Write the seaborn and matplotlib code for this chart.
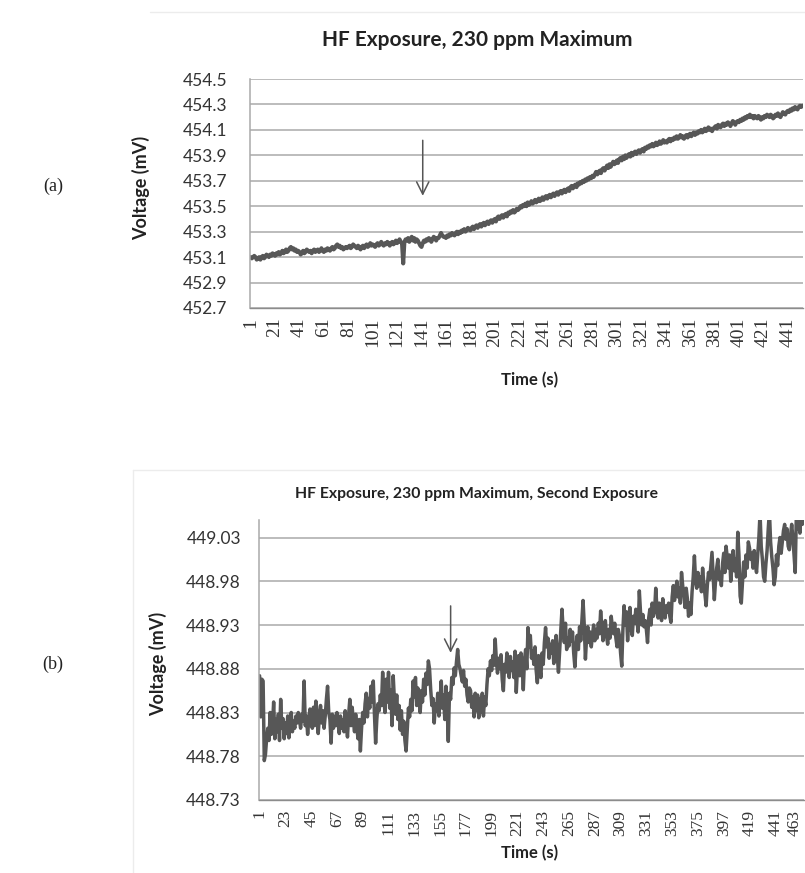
import matplotlib
matplotlib.use("Agg")
import matplotlib.pyplot as plt
import matplotlib.transforms as mtransforms
from matplotlib.lines import Line2D
import seaborn as sns
import pandas as pd

# (a) first exposure, voltage in mV, one reading per second (rows of 20 s)
volt_a = [
    453.10, 453.09, 453.10, 453.11, 453.10, 453.08, 453.09, 453.10, 453.08, 453.10, 453.11, 453.09, 453.10, 453.12, 453.11, 453.10, 453.12, 453.11, 453.13, 453.12,
    453.11, 453.13, 453.12, 453.14, 453.12, 453.13, 453.15, 453.13, 453.14, 453.16, 453.14, 453.15, 453.17, 453.18, 453.16, 453.17, 453.15, 453.16, 453.14, 453.15,
    453.14, 453.12, 453.13, 453.15, 453.13, 453.14, 453.16, 453.15, 453.14, 453.15, 453.13, 453.15, 453.16, 453.14, 453.15, 453.16, 453.14, 453.15, 453.17, 453.15,
    453.14, 453.16, 453.15, 453.17, 453.16, 453.15, 453.17, 453.18, 453.16, 453.17, 453.19, 453.20, 453.18, 453.19, 453.17, 453.18, 453.16, 453.17, 453.18, 453.17,
    453.18, 453.19, 453.17, 453.18, 453.20, 453.19, 453.18, 453.17, 453.19, 453.18, 453.16, 453.18, 453.19, 453.17, 453.19, 453.20, 453.18, 453.19, 453.21, 453.19,
    453.20, 453.19, 453.18, 453.20, 453.21, 453.19, 453.20, 453.22, 453.20, 453.19, 453.21, 453.20, 453.22, 453.21, 453.19, 453.21, 453.22, 453.20, 453.21, 453.23,
    453.21, 453.22, 453.24, 453.22, 453.21, 453.05, 453.22, 453.24, 453.23, 453.25, 453.22, 453.24, 453.26, 453.23, 453.25, 453.22, 453.24, 453.23, 453.21, 453.19,
    453.18, 453.21, 453.23, 453.22, 453.24, 453.23, 453.25, 453.24, 453.22, 453.24, 453.26, 453.25, 453.23, 453.25, 453.25, 453.27, 453.29, 453.27, 453.26, 453.26,
    453.25, 453.27, 453.26, 453.28, 453.27, 453.29, 453.28, 453.27, 453.29, 453.30, 453.28, 453.30, 453.29, 453.31, 453.30, 453.32, 453.30, 453.31, 453.33, 453.32,
    453.31, 453.33, 453.34, 453.32, 453.34, 453.35, 453.33, 453.35, 453.36, 453.34, 453.36, 453.37, 453.35, 453.37, 453.38, 453.36, 453.38, 453.39, 453.37, 453.39,
    453.40, 453.38, 453.41, 453.42, 453.40, 453.42, 453.43, 453.41, 453.43, 453.44, 453.42, 453.45, 453.44, 453.46, 453.45, 453.47, 453.45, 453.46, 453.48, 453.47,
    453.48, 453.50, 453.49, 453.51, 453.50, 453.52, 453.50, 453.53, 453.51, 453.52, 453.54, 453.52, 453.53, 453.55, 453.53, 453.54, 453.56, 453.54, 453.55, 453.57,
    453.55, 453.57, 453.58, 453.56, 453.58, 453.59, 453.57, 453.59, 453.60, 453.58, 453.60, 453.61, 453.59, 453.61, 453.62, 453.60, 453.62, 453.63, 453.61, 453.63,
    453.64, 453.62, 453.65, 453.66, 453.64, 453.66, 453.67, 453.65, 453.68, 453.67, 453.69, 453.68, 453.70, 453.69, 453.71, 453.70, 453.72, 453.71, 453.73, 453.72,
    453.74, 453.73, 453.75, 453.77, 453.75, 453.77, 453.78, 453.76, 453.79, 453.80, 453.78, 453.80, 453.82, 453.80, 453.83, 453.81, 453.83, 453.85, 453.83, 453.84,
    453.86, 453.84, 453.87, 453.88, 453.86, 453.89, 453.87, 453.90, 453.88, 453.90, 453.91, 453.89, 453.92, 453.90, 453.92, 453.93, 453.91, 453.93, 453.94, 453.92,
    453.94, 453.95, 453.93, 453.96, 453.95, 453.97, 453.96, 453.98, 453.97, 453.99, 453.97, 453.98, 454.00, 453.98, 453.99, 454.01, 453.99, 454.00, 454.02, 454.00,
    454.01, 454.00, 454.02, 454.03, 454.01, 454.03, 454.02, 454.04, 454.03, 454.05, 454.03, 454.04, 454.06, 454.04, 454.05, 454.03, 454.05, 454.06, 454.04, 454.06,
    454.07, 454.05, 454.07, 454.08, 454.06, 454.08, 454.07, 454.09, 454.08, 454.10, 454.08, 454.09, 454.11, 454.09, 454.10, 454.12, 454.10, 454.11, 454.09, 454.11,
    454.12, 454.13, 454.11, 454.14, 454.13, 454.12, 454.14, 454.15, 454.13, 454.15, 454.14, 454.16, 454.15, 454.13, 454.15, 454.17, 454.16, 454.14, 454.16, 454.17,
    454.16, 454.18, 454.17, 454.19, 454.18, 454.20, 454.19, 454.21, 454.20, 454.22, 454.20, 454.21, 454.19, 454.21, 454.20, 454.19, 454.21, 454.20, 454.18, 454.20,
    454.19, 454.21, 454.20, 454.22, 454.21, 454.20, 454.22, 454.21, 454.19, 454.20, 454.22, 454.21, 454.23, 454.21, 454.20, 454.22, 454.24, 454.23, 454.22, 454.24,
    454.25, 454.24, 454.26, 454.25, 454.27, 454.26, 454.28, 454.27, 454.26, 454.28, 454.29, 454.28, 454.29,
]

# (b) second exposure, voltage in mV (rows of 22 s)
volt_b = [
    448.872, 448.825, 448.868, 448.866, 448.775, 448.782, 448.800, 448.812, 448.798, 448.830, 448.805, 448.815, 448.842, 448.800, 448.822, 448.808, 448.828, 448.798, 448.845, 448.812, 448.823, 448.800,
    448.818, 448.806, 448.826, 448.801, 448.815, 448.830, 448.808, 448.820, 448.812, 448.826, 448.818, 448.830, 448.822, 448.812, 448.828, 448.820, 448.866, 448.815, 448.826, 448.805, 448.822, 448.834,
    448.820, 448.812, 448.836, 448.815, 448.843, 448.828, 448.806, 448.825, 448.838, 448.818, 448.832, 448.812, 448.826, 448.845, 448.860, 448.830, 448.822, 448.795, 448.828, 448.812, 448.826, 448.815,
    448.830, 448.818, 448.806, 448.826, 448.812, 448.822, 448.808, 448.832, 448.816, 448.802, 448.828, 448.845, 448.815, 448.836, 448.820, 448.808, 448.828, 448.812, 448.800, 448.822, 448.786, 448.812,
    448.830, 448.818, 448.840, 448.852, 448.825, 448.846, 448.835, 448.860, 448.842, 448.866, 448.828, 448.795, 448.822, 448.840, 448.832, 448.850, 448.838, 448.876, 448.845, 448.830, 448.868, 448.842,
    448.876, 448.835, 448.856, 448.815, 448.872, 448.845, 448.828, 448.850, 448.822, 448.838, 448.810, 448.832, 448.805, 448.820, 448.798, 448.786, 448.810, 448.835, 448.825, 448.845, 448.832, 448.866,
    448.848, 448.870, 448.838, 448.858, 448.846, 448.830, 448.855, 448.842, 448.868, 448.850, 448.875, 448.862, 448.889, 448.880, 448.856, 448.838, 448.846, 448.818, 448.840, 448.832, 448.852, 448.826,
    448.845, 448.866, 448.835, 448.850, 448.822, 448.860, 448.838, 448.797, 448.852, 448.845, 448.870, 448.862, 448.881, 448.872, 448.888, 448.902, 448.885, 448.880, 448.872, 448.865, 448.878, 448.860,
    448.868, 448.850, 448.842, 448.858, 448.855, 448.836, 448.848, 448.825, 448.852, 448.832, 448.850, 448.824, 448.846, 448.830, 448.852, 448.826, 448.848, 448.838, 448.862, 448.880, 448.872, 448.889,
    448.878, 448.895, 448.884, 448.914, 448.890, 448.875, 448.892, 448.880, 448.896, 448.868, 448.855, 448.885, 448.876, 448.898, 448.882, 448.870, 448.894, 448.878, 448.888, 448.870, 448.900, 448.853,
    448.880, 448.895, 448.872, 448.898, 448.885, 448.856, 448.890, 448.902, 448.880, 448.927, 448.905, 448.918, 448.892, 448.900, 448.885, 448.905, 448.878, 448.864, 448.895, 448.882, 448.870, 448.898,
    448.885, 448.910, 448.927, 448.905, 448.915, 448.892, 448.908, 448.898, 448.912, 448.886, 448.902, 448.918, 448.895, 448.876, 448.900, 448.922, 448.948, 448.925, 448.910, 448.932, 448.902, 448.915,
    448.906, 448.925, 448.912, 448.922, 448.898, 448.882, 448.905, 448.918, 448.902, 448.928, 448.912, 448.935, 448.958, 448.930, 448.891, 448.915, 448.928, 448.910, 448.922, 448.905, 448.918, 448.930,
    448.912, 448.925, 448.915, 448.932, 448.920, 448.946, 448.928, 448.912, 448.922, 448.935, 448.918, 448.908, 448.925, 448.915, 448.940, 448.928, 448.920, 448.932, 448.915, 448.905, 448.925, 448.918,
    448.898, 448.883, 448.925, 448.952, 448.930, 448.945, 448.912, 448.938, 448.950, 448.925, 448.918, 448.940, 448.932, 448.948, 448.935, 448.922, 448.969, 448.945, 448.930, 448.942, 448.928, 448.935,
    448.925, 448.910, 448.938, 448.948, 448.930, 448.955, 448.940, 448.945, 448.972, 448.950, 448.938, 448.955, 448.942, 448.935, 448.960, 448.948, 448.938, 448.952, 448.945, 448.955, 448.940, 448.933,
    448.962, 448.975, 448.958, 448.968, 448.980, 448.962, 448.972, 448.955, 448.990, 448.975, 448.965, 448.950, 448.972, 448.960, 448.940, 448.955, 448.942, 448.968, 448.985, 449.009, 448.980, 448.972,
    448.990, 448.975, 448.985, 448.968, 448.995, 448.978, 448.965, 448.952, 448.975, 448.990, 448.982, 448.998, 449.013, 448.985, 448.959, 448.980, 448.995, 449.005, 448.982, 448.990, 448.975, 449.000,
    449.012, 448.990, 449.020, 449.008, 448.995, 449.010, 448.980, 448.998, 449.015, 448.992, 449.005, 448.985, 449.036, 449.010, 448.963, 448.955, 448.978, 449.002, 448.985, 449.010, 448.995, 449.025,
    449.018, 449.005, 449.012, 448.995, 449.015, 449.000, 448.990, 449.010, 449.030, 449.058, 449.020, 449.005, 448.985, 448.980, 449.000, 449.015, 449.040, 449.060, 449.025, 449.008, 448.995, 448.976,
    448.985, 449.010, 448.998, 449.020, 449.030, 449.012, 449.025, 449.038, 449.045, 449.028, 449.040, 449.020, 449.016, 449.032, 449.045, 449.030, 449.010, 448.990, 449.058, 449.040, 449.060, 449.035,
    449.060, 449.045, 449.058,
]

yticks_a = [452.7, 452.9, 453.1, 453.3, 453.5, 453.7, 453.9, 454.1, 454.3, 454.5]
yticks_b = [448.73, 448.78, 448.83, 448.88, 448.93, 448.98, 449.03]
xlabels_a = list(range(1, 442, 20))
xlabels_b = list(range(1, 464, 22))
titles = ["HF Exposure, 230 ppm Maximum",
          "HF Exposure, 230 ppm Maximum, Second Exposure"]

df_a = pd.DataFrame({"time": range(1, len(volt_a) + 1), "voltage": volt_a})
df_b = pd.DataFrame({"time": range(1, len(volt_b) + 1), "voltage": volt_b})

sns.set_style("white")
plt.rcParams["font.family"] = ["Lato", "DejaVu Sans"]

LINE = "#575757"
GRID = "#a9a9a9"
TXT = "#222222"
W, H = 805, 873


def box(x0, y0, x1, y1):
    # pixel box (top-left origin) -> figure fraction rect
    return [x0 / W, 1 - y1 / H, (x1 - x0) / W, (y1 - y0) / H]


def style(ax, n, yticks, ylim, xlabels, dec, ypad, xsize):
    ax.set_xlim(0.5, n + 0.5)
    ax.set_ylim(*ylim)
    ax.set_yticks(yticks)
    ax.set_yticklabels([f"{t:.{dec}f}" for t in yticks], fontsize=12.5, color="#333333")
    ax.set_xticks(xlabels)
    ax.set_xticklabels([str(v) for v in xlabels], rotation=90, fontsize=xsize,
                       family="Liberation Serif", color="#333333")
    ax.set_xticks([i + 0.5 for i in range(n + 1)], minor=True)
    ax.tick_params(axis="x", which="minor", length=5, width=0.6, color="#7f7f7f")
    ax.tick_params(axis="x", which="major", length=5, width=0, pad=2)
    ax.tick_params(axis="y", length=5, width=1.1, color=GRID, pad=ypad)
    ax.grid(axis="y", color=GRID, lw=1.1)
    ax.grid(axis="x", visible=False)
    ax.set_axisbelow(True)
    for s in ["top", "right"]:
        ax.spines[s].set_visible(False)
    ax.spines["left"].set_color(GRID)
    ax.spines["left"].set_linewidth(1.1)
    ax.spines["bottom"].set_color("#8c8c8c")
    ax.spines["bottom"].set_linewidth(1.0)
    ax.set_xlabel("")
    ax.set_ylabel("")


fig = plt.figure(figsize=(W / 100, H / 100), dpi=100)
ax1 = fig.add_axes(box(250, 79, 803, 308))
ax2 = fig.add_axes(box(259, 520, 804, 800))

sns.lineplot(data=df_a, x="time", y="voltage", ax=ax1, color=LINE, lw=2.9, estimator=None)
sns.lineplot(data=df_b, x="time", y="voltage", ax=ax2, color=LINE, lw=2.5, estimator=None)

style(ax1, len(volt_a), yticks_a, (452.7, 454.5), xlabels_a, 1, 11, 14)
style(ax2, len(volt_b), yticks_b, (448.73, 449.05), xlabels_b, 2, 8, 12.5)

# the last label of (b) sits at the very edge; nudge it inwards
last = ax2.get_xticklabels()[-1]
last.set_transform(last.get_transform() + mtransforms.ScaledTranslation(-6 / 100, 0, fig.dpi_scale_trans))

# arrows marking the start of exposure
arrow = dict(arrowstyle="->", color="#555555", lw=1.1, mutation_scale=22)
ax1.annotate("", xy=(142, 453.56), xytext=(142, 454.04), arrowprops=arrow)
ax2.annotate("", xy=(164, 448.895), xytext=(164, 448.955), arrowprops=arrow)

# titles and axis labels
fig.text(477 / W, 1 - 40 / H, titles[0], ha="center", va="center", fontsize=15, weight="bold", color=TXT)
fig.text(476 / W, 1 - 494 / H, titles[1], ha="center", va="center", fontsize=11.3, weight="bold", color=TXT)
fig.text(141 / W, 1 - 188 / H, "Voltage (mV)", rotation=90, ha="center", va="center", fontsize=13, weight="bold", color=TXT)
fig.text(158 / W, 1 - 664 / H, "Voltage (mV)", rotation=90, ha="center", va="center", fontsize=13, weight="bold", color=TXT)
fig.text(530 / W, 1 - 380 / H, "Time (s)", ha="center", va="center", fontsize=12, weight="bold", color=TXT)
fig.text(530 / W, 1 - 853 / H, "Time (s)", ha="center", va="center", fontsize=12, weight="bold", color=TXT)
fig.text(53 / W, 1 - 186 / H, "(a)", ha="center", va="center", fontsize=13, family="Liberation Serif", color=TXT)
fig.text(53 / W, 1 - 664 / H, "(b)", ha="center", va="center", fontsize=13, family="Liberation Serif", color=TXT)

# faint chart-area borders
for x0, y0, x1, y1 in [(150, 12, 805, 12), (133, 470, 805, 470), (133, 470, 133, 873)]:
    fig.add_artist(Line2D([x0 / W, x1 / W], [1 - y0 / H, 1 - y1 / H], color="#ececec", lw=1.0))

fig.savefig("out.png", dpi=100)
